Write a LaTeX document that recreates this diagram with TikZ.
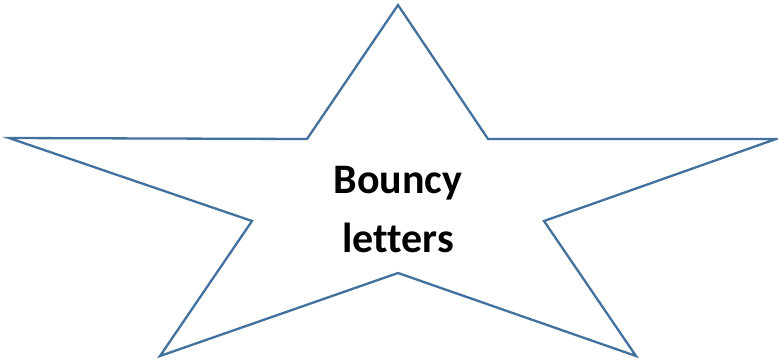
\documentclass[tikz,border=0pt]{standalone}
\usepackage{fontspec}
\setmainfont[Ligatures=CommonOff]{Carlito}
\definecolor{starblue}{HTML}{41719C}
\begin{document}
\begin{tikzpicture}[x=1pt,y=-1pt,
  starline/.style={draw=starblue,line width=2.3pt,line join=miter},
  label/.style={font=\fontsize{42}{59}\selectfont\bfseries,align=center,text=black}]
\useasboundingbox (0,0) rectangle (778,362);
\coordinate (p1) at (398,5);
\coordinate (p2) at (488,139);
\coordinate (p3) at (776,139);
\coordinate (p4) at (544,221);
\coordinate (p5) at (636,356);
\coordinate (p6) at (398,273);
\coordinate (p7) at (160,356);
\coordinate (p8) at (252,221);
\coordinate (p9) at (9,138);
\coordinate (p10) at (307,139);
\draw[starline] (p1) -- (p2) -- (p3) -- (p4) -- (p5) -- (p6) -- (p7) -- (p8) -- (p9) -- (p10) -- cycle;
\node[label] (t) at (398,210) {Bouncy\\letters};
\end{tikzpicture}
\end{document}
